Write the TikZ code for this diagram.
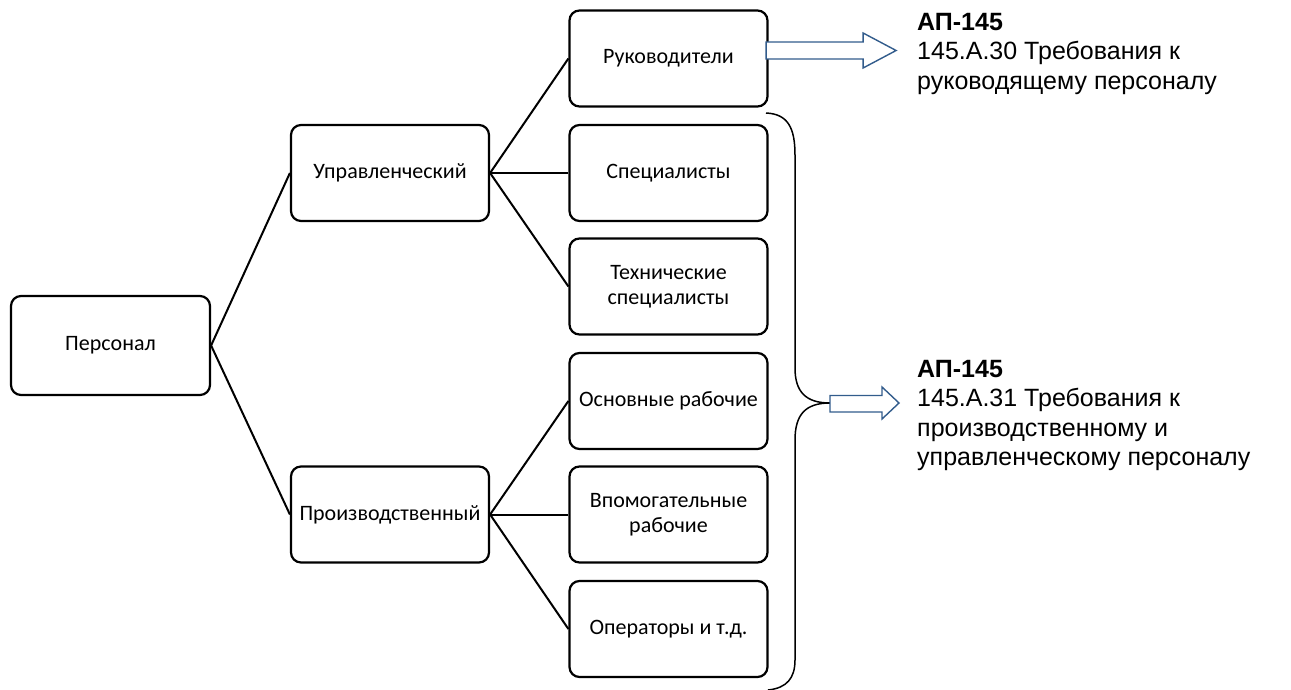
\documentclass[tikz,border=0pt]{standalone}
\usepackage{fontspec}
\setmainfont{Carlito}
\newfontfamily\arialfont{Liberation Sans}
\usepackage{xcolor}
\usepackage{tikz}
\usetikzlibrary{positioning,calc}
\definecolor{arrowblue}{RGB}{50,92,140}

\begin{document}
\begin{tikzpicture}[x=1pt, y=-1pt,
    box/.style={draw, line width=2.2pt, rounded corners=10pt, fill=white, align=center,
      minimum width=198pt, minimum height=96pt, inner sep=2pt,
      font=\fontsize{22}{24.5}\selectfont},
    link/.style={line width=2pt},
    blockarrow/.style={draw=arrowblue, line width=1.4pt, fill=white, line join=miter},
    bracket/.style={line width=1.5pt},
    req/.style={anchor=north west, inner sep=0pt, align=left,
      font=\arialfont\fontsize{25}{29.5}\selectfont}]
    \useasboundingbox (0,0) rectangle (1291,690);
    % left part of the tree
    \node (personnel) [box, minimum width=199pt, minimum height=99pt] at (110.5,345.5) {Персонал};
    \node (management) [box] at (390,173) {Управленческий};
    \node (production) [box] at (390,514.5) {Производственный};
    % right column
    \node (heads) [box] at (668.5,58.5) {Руководители};
    \node (specialists) [box] at (668.5,173) {Специалисты};
    \node (techspec) [box] at (668.5,286.5) {Технические\\специалисты};
    \node (mainworkers) [box] at (668.5,401) {Основные рабочие};
    \node (auxworkers) [box] at (668.5,514.5) {Впомогательные\\рабочие};
    \node (operators) [box] at (668.5,629) {Операторы и т.д.};
    \draw [link] (personnel.east) -- (management.west);
    \draw [link] (personnel.east) -- (production.west);
    \draw [link] (management.east) -- (heads.west);
    \draw [link] (management.east) -- (specialists.west);
    \draw [link] (management.east) -- (techspec.west);
    \draw [link] (production.east) -- (mainworkers.west);
    \draw [link] (production.east) -- (auxworkers.west);
    \draw [link] (production.east) -- (operators.west);
    % brace over the other five boxes
    \coordinate (bracetip) at (830,403);
    \draw [bracket] (766,113) .. controls (788,114) and (795,128) .. (795,155)
      -- (795,368) .. controls (795,392) and (806,403) .. (bracetip)
      .. controls (806,403) and (795,414) .. (795,440)
      -- (795,660) .. controls (795,678) and (787,688) .. (768,690);
    % block arrows
    \coordinate (arrowstart) at ([xshift=-2.5pt, yshift=8pt]heads.east);
    \draw [blockarrow] (arrowstart) +(0,-8.5) -- +(97,-8.5) -- +(97,-17.5) -- +(130,0)
      -- +(97,17.5) -- +(97,8.5) -- +(0,8.5) -- cycle;
    \draw [blockarrow] (bracetip) +(0,-7.5) -- +(52,-7.5) -- +(52,-16) -- +(69,0)
      -- +(52,16) -- +(52,9) -- +(0,9) -- cycle;
    % requirement texts
    \node (req30) [req] at (917,13) {\textbf{АП-145}\\145.A.30 Требования к\\руководящему персоналу};
    \node (req31) [req] at (917,360) {\textbf{АП-145}\\145.A.31 Требования к\\производственному и\\управленческому персоналу};
\end{tikzpicture}
\end{document}
